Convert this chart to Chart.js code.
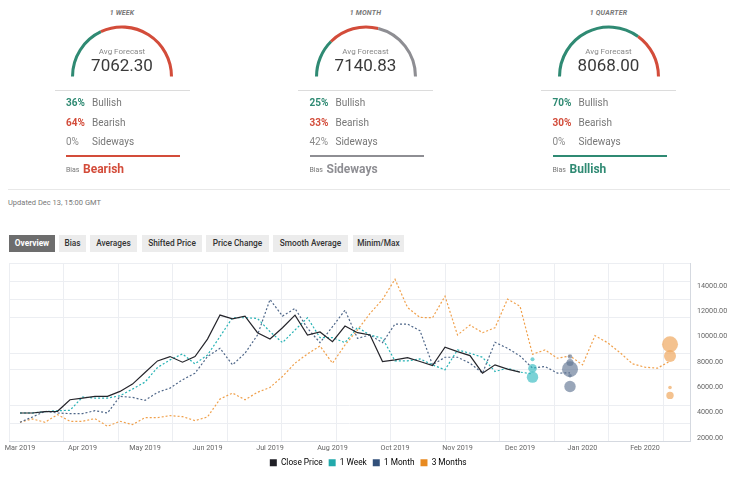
<!DOCTYPE html>
<html><head><meta charset="utf-8">
<script src="https://cdn.jsdelivr.net/npm/chart.js@4.4.1/dist/chart.umd.min.js"></script>
<style>
html,body{margin:0;padding:0;background:#fff;}
body{width:750px;height:477px;position:relative;overflow:hidden;font-family:Roboto,"Noto Sans",sans-serif;}
.a{position:absolute;white-space:nowrap;}
.title{font-size:7px;font-style:italic;font-weight:700;color:#777;text-align:center;width:140px;line-height:9px;letter-spacing:.2px;}
.avgl{font-size:8px;color:#888;text-align:center;width:140px;line-height:10px;}
.avgv{font-size:17px;color:#3a3a3a;text-align:center;width:140px;line-height:20px;}
.pct{font-size:10px;font-weight:700;line-height:12px;}
.lbl{font-size:10px;color:#777;line-height:12px;}
.biasl{font-size:7px;color:#777;line-height:9px;}
.biasv{font-size:12px;font-weight:700;line-height:14px;}
.btn{top:235px;height:17px;line-height:17px;font-size:8.3px;font-weight:500;text-align:center;background:#ececec;color:#333;}
.btn.on{background:#6d6d6d;color:#fff;font-weight:700;}
</style>
</head><body>
<script>
// ---------- poll data ----------
const panelTitles = ['1 WEEK', '1 MONTH', '1 QUARTER'];
const panelAvg = ['7062.30', '7140.83', '8068.00'];
const bullish = [36, 25, 70];
const bearish = [64, 33, 30];
const sideways = [0, 42, 0];
const biasLabels = ['Bearish', 'Sideways', 'Bullish'];

// ---------- chart data (weekly, index 0 = Mar 8 2019) ----------
const tickLabels = ['Mar 2019','Apr 2019','May 2019','Jun 2019','Jul 2019','Aug 2019','Oct 2019','Nov 2019','Dec 2019','Jan 2020','Feb 2020'];
const tickWeeks = [0,5,10,15,20,25,30,35,40,45,50];
const yTicks = [2000,4000,6000,8000,10000,12000,14000];
const closePrice = [3965,3965,4073,4100,5016,5147,5278,5278,5670,6247,7165,8080,8422,7977,8422,9800,11697,11400,11618,10308,9811,10701,11697,10125,10361,9601,10832,10308,10125,8029,8160,8343,8029,7715,9156,8815,8501,7112,7767,7426,7191];
const week1 = [3965,3965,4073,4152,4178,5226,5147,5147,5330,5854,6405,7558,8160,8632,7846,8550,10000,11488,11488,11435,10387,9523,10518,11488,9916,9916,9523,10728,10125,9863,8081,8081,8239,7767,7374,8946,8684,8370,7243,7505,7191,7062.30];
const month1 = [3235,3654,4100,3965,3916,3916,4152,3965,5278,5200,4964,5593,5933,6588,7112,8422,9077,7767,8684,10125,12928,11618,12221,10649,9523,10780,12090,9863,10125,9523,10990,10990,10466,7767,8370,8370,7898,7112,9549,9077,8474,7505,7636,7112,7140.83];
const months3 = [3235,3497,3235,3837,3313,3313,3523,2920,3313,3051,3601,3601,3758,3680,3365,3654,5068,5540,5016,5600,5985,6850,7898,8632,9260,7898,9339,10518,11828,12928,14527,12300,11514,11488,13190,10125,10911,10308,10701,12955,12405,8605,8946,8291,8474,7767,10073,9523,8737,7846,7584,7505,8068];
// forecast distributions (week index, values, bubble size)
const weekBubbleX = 41;
const weekBubbleY = [8212, 7505, 6797];
const weekBubbleR = [2, 4.3, 5.7];
const monthBubbleX = 44;
const monthBubbleY = [8422, 7950, 7426, 6902, 6064];
const monthBubbleR = [2.3, 3.5, 8, 1.8, 5.7];
const quarterBubbleX = 52;
const quarterBubbleY = [9391, 8474, 5985, 5357];
const quarterBubbleR = [8, 6, 1.8, 3.7];
const legendNames = ['Close Price', '1 Week', '1 Month', '3 Months'];

// ---------- layout / style ----------
const GREEN = '#2f8a73', RED = '#d34c3a', GRAY = '#8e8e93';
const panelCenters = [122, 365.5, 608.5];
const biasColors = [RED, GRAY, GREEN];
const legendColors = ['#1f1f26', '#22a9ab', '#32507a', '#e88a20'];

Chart.defaults.font.family = 'Roboto, "Noto Sans", sans-serif';

function el(cls, txt, css) {
  const d = document.createElement('div');
  d.className = 'a ' + cls;
  if (txt !== undefined) d.textContent = txt;
  Object.assign(d.style, css);
  document.body.appendChild(d);
  return d;
}

panelTitles.forEach((t, p) => {
  const cx = panelCenters[p];
  const rx = cx - 56;
  el('title', t, {left: (cx - 70) + 'px', top: '8.5px'});
  const cv = document.createElement('canvas');
  cv.width = 110; cv.height = 52;
  cv.className = 'a';
  Object.assign(cv.style, {left: (cx - 55) + 'px', top: '24.5px', width: '110px', height: '52px'});
  document.body.appendChild(cv);
  new Chart(cv, {
    type: 'doughnut',
    data: {datasets: [{data: [bullish[p], bearish[p], sideways[p]], backgroundColor: [GREEN, RED, GRAY], borderWidth: 0}]},
    options: {responsive: false, animation: false, events: [], rotation: -90, circumference: 180,
      radius: 51, cutout: '94%', layout: {padding: 0},
      plugins: {legend: {display: false}, tooltip: {enabled: false}}}
  });
  el('avgl', 'Avg Forecast', {left: (cx - 70) + 'px', top: '46.5px'});
  el('avgv', panelAvg[p], {left: (cx - 70) + 'px', top: '55px'});
  el('', '', {left: (cx - 67.5) + 'px', top: '90px', width: '135px', height: '1px', background: '#dcdcdc'});
  const rows = [[bullish[p] + '%', 'Bullish', GREEN], [bearish[p] + '%', 'Bearish', RED], [sideways[p] + '%', 'Sideways', '#8a8a8a']];
  rows.forEach((r, i) => {
    const y = [97, 117, 136][i];
    el('pct', r[0], {left: rx + 'px', top: y + 'px', color: r[2], fontWeight: i === 2 ? '400' : '700'});
    el('lbl', r[1], {left: (rx + 26) + 'px', top: y + 'px'});
  });
  el('', '', {left: rx + 'px', top: '154.5px', width: '114px', height: '2px', background: biasColors[p]});
  el('biasl', 'Bias', {left: rx + 'px', top: '166px'});
  el('biasv', biasLabels[p], {left: (rx + 17) + 'px', top: '162px', color: biasColors[p]});
});

el('', '', {left: '8px', top: '189px', width: '722px', height: '1px', background: '#e8e8e8'});
el('', 'Updated Dec 13, 15:00 GMT', {left: '8px', top: '198px', fontSize: '7.5px', color: '#777', lineHeight: '10px'});

const btnNames = ['Overview', 'Bias', 'Averages', 'Shifted Price', 'Price Change', 'Smooth Average', 'Minim/Max'];
const btnLeft = [9, 59, 90, 142, 206, 273, 353];
const btnWidth = [46, 27, 47, 60, 63, 75, 51];
btnNames.forEach((b, i) => {
  el('btn' + (i === 0 ? ' on' : ''), b, {left: btnLeft[i] + 'px', width: btnWidth[i] + 'px'});
});

// ---------- main chart ----------
const mc = document.createElement('canvas');
mc.width = 750; mc.height = 222; mc.className = 'a';
Object.assign(mc.style, {left: '0px', top: '255px', width: '750px', height: '222px'});
document.body.appendChild(mc);

const toXY = arr => arr.map((v, i) => ({x: i, y: v}));
const bub = (x, ys, rs) => ys.map((v, i) => ({x: x, y: v, r: rs[i]}));
const gridY = [15810, 14372, 12925, 11511, 8681, 7376, 4547, 3132];
const gridX = [0,1,2,3,4,5,6,7,8,9,10,11,12];

new Chart(mc, {
  type: 'line',
  data: {datasets: [
    {label: legendNames[0], data: toXY(closePrice), borderColor: '#25252b', borderWidth: 1.2, pointRadius: 0, fill: false, tension: 0, order: 1},
    {label: legendNames[1], data: toXY(week1), borderColor: '#27b3b5', borderWidth: 1.2, borderDash: [2, 2], pointRadius: 0, fill: false, tension: 0, order: 2},
    {label: legendNames[2], data: toXY(month1), borderColor: '#4f6789', borderWidth: 1.2, borderDash: [2, 2], pointRadius: 0, fill: false, tension: 0, order: 3},
    {label: legendNames[3], data: toXY(months3), borderColor: '#f0a04b', borderWidth: 1.2, borderDash: [2, 2], pointRadius: 0, fill: false, tension: 0, order: 4},
    {type: 'bubble', label: '', data: bub(weekBubbleX, weekBubbleY, weekBubbleR), backgroundColor: 'rgba(52,186,192,0.65)', borderWidth: 0, order: 0},
    {type: 'bubble', label: '', data: bub(monthBubbleX, monthBubbleY, monthBubbleR), backgroundColor: 'rgba(98,118,148,0.65)', borderWidth: 0, order: 0},
    {type: 'bubble', label: '', data: bub(quarterBubbleX, quarterBubbleY, quarterBubbleR), backgroundColor: 'rgba(240,170,100,0.72)', borderWidth: 0, order: 0}
  ]},
  options: {
    responsive: false, animation: false, events: [],
    layout: {padding: {left: 9.3, right: 23, top: 6, bottom: 0}},
    plugins: {
      tooltip: {enabled: false},
      legend: {position: 'bottom', labels: {boxWidth: 7, boxHeight: 7, padding: 6, color: '#555', font: {size: 8.3},
        generateLabels: () => legendNames.map((n, i) => ({text: n, fillStyle: legendColors[i], strokeStyle: legendColors[i], lineWidth: 0, hidden: false, datasetIndex: i}))}}
    },
    scales: {
      x: {type: 'linear', position: 'bottom', min: -0.856, max: 53.6,
        grid: {display: false, drawTicks: false}, border: {display: true, color: '#d5d9e0'},
        ticks: {autoSkip: false, maxRotation: 0, padding: 3, color: '#666', font: {size: 7.2}, callback: (v, i) => tickLabels[i]},
        afterBuildTicks: s => { s.ticks = tickWeeks.map(v => ({value: v})); },
        afterFit: s => { s.height = 11.5; }},
      gx: {type: 'linear', position: 'bottom', min: 0, max: 12.49,
        grid: {color: '#eceef2', drawTicks: false}, border: {display: false}, ticks: {display: false},
        afterBuildTicks: s => { s.ticks = gridX.map(v => ({value: v})); },
        afterFit: s => { s.height = 0; }},
      y: {type: 'linear', position: 'right', min: 1740, max: 15810,
        grid: {display: false, drawTicks: true, tickLength: 7}, border: {display: true, color: '#d5d9e0'},
        ticks: {padding: 0, color: '#666', font: {size: 7.2}, callback: v => Number(v).toFixed(2)},
        afterBuildTicks: s => { s.ticks = yTicks.map(v => ({value: v})); },
        afterFit: s => { s.width = 37; }},
      gy: {type: 'linear', position: 'left', min: 1740, max: 15810,
        grid: {color: '#eceef2', drawTicks: false}, border: {display: false}, ticks: {display: false},
        afterBuildTicks: s => { s.ticks = gridY.map(v => ({value: v})); },
        afterFit: s => { s.width = 0; }}
    }
  }
});
</script>
</body></html>
